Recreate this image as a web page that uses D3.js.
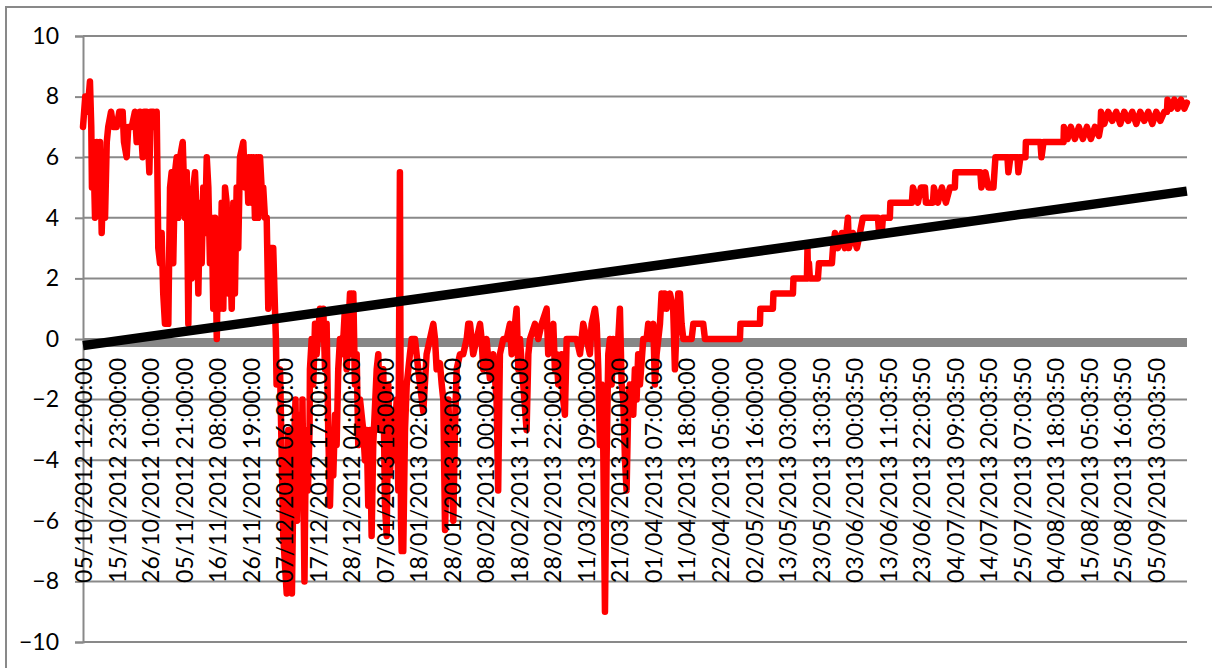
<!DOCTYPE html>
<html>
<head>
<meta charset="utf-8">
<script src="https://cdn.jsdelivr.net/npm/d3@7"></script>
<style>
body { margin: 0; background: #fff; }
svg { display: block; font-family: Lato, "Open Sans", sans-serif; }
</style>
</head>
<body>
<svg width="1212" height="668"></svg>
<script>
// y ticks
const yTicks = [-10, -8, -6, -4, -2, 0, 2, 4, 6, 8, 10]

// category labels, one every 251 hourly points
const xLabels = [
    "05/10/2012 12:00:00", "15/10/2012 23:00:00", "26/10/2012 10:00:00", "05/11/2012 21:00:00",
    "16/11/2012 08:00:00", "26/11/2012 19:00:00", "07/12/2012 06:00:00", "17/12/2012 17:00:00",
    "28/12/2012 04:00:00", "07/01/2013 15:00:00", "18/01/2013 02:00:00", "28/01/2013 13:00:00",
    "08/02/2013 00:00:00", "18/02/2013 11:00:00", "28/02/2013 22:00:00", "11/03/2013 09:00:00",
    "21/03/2013 20:00:00", "01/04/2013 07:00:00", "11/04/2013 18:00:00", "22/04/2013 05:00:00",
    "02/05/2013 16:00:00", "13/05/2013 03:00:00", "23/05/2013 13:03:50", "03/06/2013 00:03:50",
    "13/06/2013 11:03:50", "23/06/2013 22:03:50", "04/07/2013 09:03:50", "14/07/2013 20:03:50",
    "25/07/2013 07:03:50", "04/08/2013 18:03:50", "15/08/2013 05:03:50", "25/08/2013 16:03:50",
    "05/09/2013 03:03:50"
]
const labelStep = 251
const nHours = 8270

// linear trendline, value at first and last point
const trendEnds = [-0.22, 4.88]

// [hour index, value]
const redSeries = [
    [0,7],[17,8],[32,7.5],[43,8],[52,8.5],[62,7],[67,5],[77,6.5],[90,4],[103,6.5],[115,4.5],[127,6.5],
    [140,3.5],[152,5.5],[165,4],[178,6.5],[189,7],[210,7.5],[227,7],[252,7],[272,7.5],[297,7.5],[307,6.5],
    [327,6],[339,7],[365,7],[389,7.5],[402,6.5],[414,7],[427,7.5],[447,6],[457,7.5],[477,7.5],[497,5.5],
    [507,7.5],[527,7.5],[539,7],[552,7.5],[564,3],[577,2.5],[589,3.5],[601,1.5],[614,0.5],[639,0.5],
    [652,5],[664,5.5],[676,2.5],[689,5.5],[702,6],[714,4],[727,6],[747,6.5],[764,4],[777,5.5],[789,0.5],
    [801,4.5],[814,2],[826,5],[839,5.5],[852,4],[864,1.5],[876,4.5],[889,2.5],[901,5],[914,3.5],[927,6],
    [939,5],[951,2.5],[964,4],[976,1],[989,4],[1002,0],[1013,3],[1026,1],[1039,4.5],[1051,1],[1064,5],
    [1076,4.5],[1088,1.5],[1101,3],[1114,1],[1126,4.5],[1138,1.5],[1151,5],[1163,3],[1176,6],[1201,6.5],
    [1213,5],[1226,6],[1238,4.5],[1251,6],[1264,4.5],[1276,6],[1288,4],[1301,6],[1313,4],[1326,6],
    [1338,5],[1350,5],[1363,4],[1376,4],[1388,1],[1401,3],[1425,3],[1438,1],[1445,0],[1450,-1.5],
    [1476,-1],[1500,-6.5],[1526,-8.4],[1538,-3],[1565,-8.4],[1580,-3.5],[1592,-2],[1603,-6],[1614,-3.5],
    [1625,-2.5],[1637,-5],[1644,-2],[1659,-8],[1670,-3],[1685,-5],[1697,-3],[1700,-1],[1713,0],[1725,-1.5],
    [1738,0.5],[1750,-0.5],[1775,1],[1788,0],[1800,1],[1813,-1],[1825,0.5],[1837,-3],[1850,-5.5],[1863,-3],
    [1875,-4.5],[1888,-2.5],[1900,-3.5],[1912,-1],[1925,0],[1938,-0.5],[1950,0],[1962,1],[1975,-1],
    [2000,1.5],[2013,-0.5],[2025,1.5],[2037,-1.5],[2050,-0.5],[2062,-3.5],[2075,-2],[2099,-3],[2112,-4],
    [2125,-3],[2137,-5.5],[2150,-3],[2162,-6.5],[2174,-3.5],[2200,-1],[2212,-0.5],[2225,-3],[2249,-1],
    [2262,-5.5],[2275,-6.5],[2287,-1.5],[2300,-4.5],[2312,-2.5],[2324,-4],[2337,-3],[2350,-2],[2362,-5],
    [2374,5.5],[2382,-6],[2387,-7],[2399,-7],[2412,-3],[2425,-1.5],[2437,-1],[2449,-0.5],[2462,0],[2487,0],
    [2511,-1],[2549,-2.4],[2574,-0.5],[2599,0],[2624,0.5],[2637,0],[2649,-1],[2674,-0.8],[2687,-1.5],
    [2699,-2],[2712,-6.3],[2736,-2],[2774,-6],[2786,-3],[2799,-1],[2824,-0.5],[2848,-0.5],[2874,0],
    [2886,0.5],[2899,0.5],[2911,0],[2923,-0.5],[2949,0],[2974,0.5],[2986,0],[2998,-1],[3023,0],[3048,-1.3],
    [3073,-0.5],[3098,-2],[3110,-5],[3123,-0.5],[3148,0],[3174,0],[3198,0.5],[3211,-0.5],[3236,0.5],
    [3248,1],[3261,-1],[3273,0],[3298,-1.5],[3323,-3],[3336,-0.5],[3348,0],[3386,0.5],[3410,0],[3436,0.5],
    [3473,1],[3485,-0.5],[3498,0],[3523,0.5],[3535,-1],[3548,-0.5],[3560,-1.5],[3585,-0.5],[3597,-2],
    [3610,-2.5],[3623,0],[3672,0],[3698,0],[3723,-0.5],[3747,0.5],[3773,0],[3797,-0.5],[3810,0.5],[3835,1],
    [3848,0.5],[3860,-1],[3872,-3.5],[3885,-1.5],[3897,-3.5],[3910,-9],[3922,-4],[3935,-0.5],[3947,0],
    [3960,-1.5],[3972,0],[3997,-1],[4022,1],[4035,-1.5],[4047,-2],[4060,-4],[4072,-5],[4085,-2],[4097,-1.5],
    [4122,-2.5],[4134,-1],[4147,-2],[4159,-0.5],[4172,-1.5],[4197,0],[4222,0],[4234,0.5],[4247,0],
    [4272,0.5],[4284,-1.5],[4297,-0.5],[4322,0.5],[4334,1.5],[4346,1],[4359,1.5],[4372,1],[4397,1.5],
    [4421,1],[4434,-1],[4447,0.5],[4459,1.5],[4472,1.5],[4484,0.5],[4497,0],[4559,0],[4572,0.5],[4646,0.5],
    [4659,0],[4921,0],[4925,0.5],[5071,0.5],[5074,1],[5168,1],[5172,1.5],[5318,1.5],[5322,2],[5423,2],
    [5427,3],[5431,2],[5438,2.5],[5445,2],[5505,2],[5513,2.5],[5610,2.5],[5618,3],[5633,3.5],[5655,3],
    [5685,3.5],[5707,3],[5730,4],[5737,3],[5767,3.5],[5797,3],[5820,3.5],[5842,4],[5955,4],[5962,3.6],
    [5985,3.6],[5992,4],[6044,4],[6048,4.5],[6209,4.5],[6217,5],[6254,4.5],[6277,5],[6307,5],[6314,4.5],
    [6367,4.5],[6374,5],[6404,4.5],[6434,5],[6464,4.5],[6494,5],[6531,5],[6535,5.5],[6722,5.5],[6730,5],
    [6760,5.5],[6782,5],[6820,5],[6835,6],[6925,6],[6932,5.5],[6947,6],[7000,6],[7007,5.5],[7022,6],
    [7060,6],[7063,6.5],[7172,6.5],[7180,6],[7195,6.5],[7345,6.5],[7348,7],[7375,6.6],[7400,7],[7430,6.6],
    [7460,7],[7490,6.6],[7520,7],[7550,6.6],[7580,7],[7610,6.7],[7622,7],[7626,7.5],[7650,7.1],[7680,7.5],
    [7710,7.2],[7740,7.5],[7770,7.1],[7800,7.5],[7830,7.2],[7860,7.5],[7890,7.1],[7920,7.5],[7950,7.2],
    [7980,7.5],[8010,7.1],[8040,7.5],[8070,7.2],[8100,7.5],[8120,7.5],[8124,7.9],[8150,7.6],[8175,7.9],
    [8200,7.6],[8225,7.9],[8250,7.6],[8269,7.8]
]

const svg = d3.select("svg")
const gridColor = "#898989"

// plot area
const plot = { left: 83, right: 1187, top: 36, bottom: 642 }

const xScale = d3.scaleLinear().domain([0, nHours]).range([plot.left, plot.right])
const yScale = d3.scaleLinear().domain([-10, 10]).range([plot.bottom, plot.top])

// chart area border
svg.append("rect")
    .attr("x", 6).attr("y", 7)
    .attr("width", 1230).attr("height", 700)
    .attr("fill", "#fff")
    .attr("stroke", gridColor)
    .attr("stroke-width", 2)

// horizontal gridlines
svg.append("g")
    .selectAll("line")
    .data(yTicks.filter(d => d !== 0))
    .join("line")
    .attr("x1", plot.left).attr("x2", plot.right)
    .attr("y1", d => yScale(d)).attr("y2", d => yScale(d))
    .attr("stroke", gridColor)
    .attr("stroke-width", 2)

// y axis
const yAxis = svg.append("g")
    .attr("transform", `translate(${plot.left},0)`)
    .call(d3.axisLeft(yScale).tickValues(yTicks).tickSize(8).tickPadding(16))
yAxis.select(".domain").attr("stroke", gridColor).attr("stroke-width", 2)
yAxis.selectAll(".tick line").attr("stroke", gridColor).attr("stroke-width", 2)
yAxis.selectAll("text")
    .attr("fill", "#000")
    .style("font-size", "23px")
    .style("font-family", "Lato, 'Open Sans', sans-serif")

// thick zero axis
svg.append("line")
    .attr("x1", plot.left).attr("x2", plot.right)
    .attr("y1", yScale(0) + 3.5).attr("y2", yScale(0) + 3.5)
    .attr("stroke", "#878787")
    .attr("stroke-width", 9)

// red series
const line = d3.line()
    .x(d => xScale(d[0]))
    .y(d => yScale(d[1]))

svg.append("path")
    .datum(redSeries)
    .attr("d", line)
    .attr("fill", "none")
    .attr("stroke", "#ff0000")
    .attr("stroke-width", 6.5)
    .attr("stroke-linejoin", "round")
    .attr("stroke-linecap", "round")

// trendline
svg.append("line")
    .attr("x1", xScale(0)).attr("y1", yScale(trendEnds[0]))
    .attr("x2", xScale(redSeries[redSeries.length - 1][0])).attr("y2", yScale(trendEnds[1]))
    .attr("stroke", "#000")
    .attr("stroke-width", 9.5)

// category axis sitting on zero, labels rotated
const xAxis = svg.append("g")
    .attr("transform", `translate(0,${yScale(0)})`)
    .call(d3.axisBottom(xScale)
        .tickValues(xLabels.map((d, i) => i * labelStep + 6))
        .tickFormat((d, i) => xLabels[i])
        .tickSize(0))
xAxis.select(".domain").remove()
xAxis.selectAll("text")
    .attr("fill", "#000")
    .attr("y", 0).attr("x", 0).attr("dy", "0.35em")
    .attr("transform", "translate(0,19) rotate(-90)")
    .style("text-anchor", "end")
    .style("font-size", "23px")
    .style("font-family", "Lato, 'Open Sans', sans-serif")
</script>
</body>
</html>
